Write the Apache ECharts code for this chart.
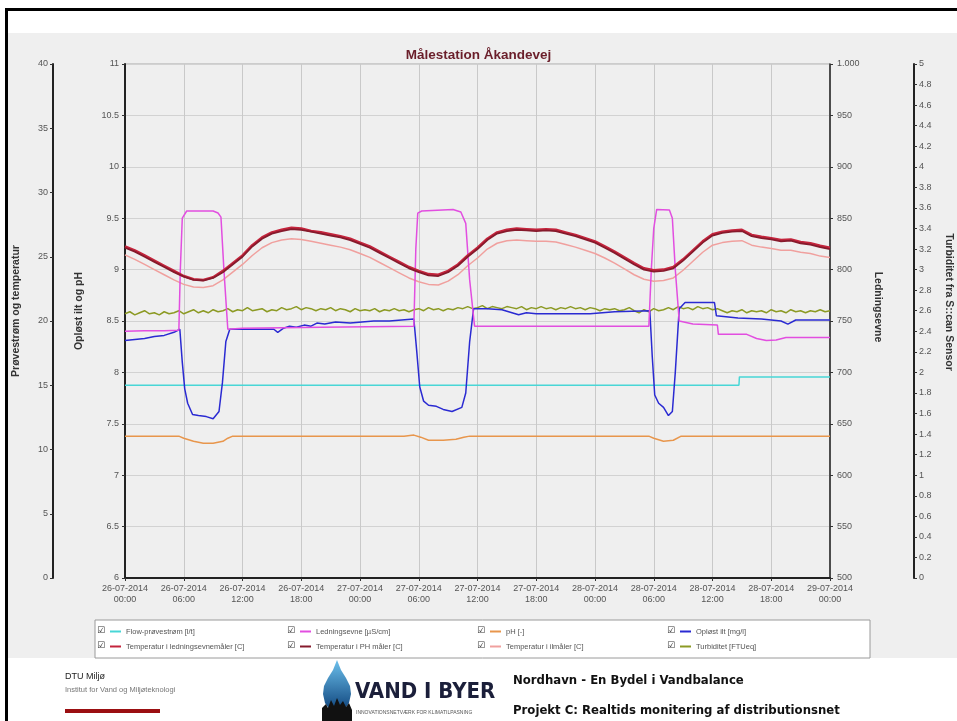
<!DOCTYPE html>
<html><head><meta charset="utf-8">
<script src="https://cdn.jsdelivr.net/npm/echarts@6/dist/echarts.min.js"></script>
<style>html,body{margin:0;padding:0;background:#fff;}#c{width:957px;height:721px;}</style>
</head><body><div id="c"></div>
<script>
// ---------- DATA ----------
const seriesNames = ['Flow-prøvestrøm [l/t]', 'Ledningsevne [µS/cm]', 'pH [-]', 'Opløst ilt [mg/l]',
  'Temperatur i ledningsevnemåler [C]', 'Temperatur i PH måler [C]', 'Temperatur i ilmåler [C]', 'Turbiditet [FTUeq]'];

const xTickLabels = ['26-07-2014\n00:00','26-07-2014\n06:00','26-07-2014\n12:00','26-07-2014\n18:00',
  '27-07-2014\n00:00','27-07-2014\n06:00','27-07-2014\n12:00','27-07-2014\n18:00',
  '28-07-2014\n00:00','28-07-2014\n06:00','28-07-2014\n12:00','28-07-2014\n18:00','29-07-2014\n00:00'];

// hours since 26-07-2014 00:00
const tempHours = [0,1,2,3,4,5,6,7,8,9,10,11,12,13,14,15,16,17,18,19,20,21,22,23,24,25,26,27,28,29,30,31,32,33,34,35,36,37,38,39,40,41,42,43,44,45,46,47,48,49,50,51,52,53,54,55,56,57,58,59,60,61,62,63,64,65,66,67,68,69,70,71,72];
const tempLedning = [25.8,25.5,25.1,24.7,24.3,23.9,23.5,23.25,23.2,23.4,
  23.9,24.5,25.1,25.9,26.5,26.9,27.1,27.25,27.2,27.0,
  26.9,26.75,26.6,26.4,26.1,25.8,25.4,25.0,24.6,24.2,
  23.9,23.65,23.6,23.9,24.4,25.1,25.7,26.4,26.9,27.1,
  27.2,27.15,27.1,27.15,27.1,26.9,26.7,26.45,26.2,25.8,
  25.4,24.95,24.5,24.1,23.95,24.0,24.2,24.8,25.5,26.2,
  26.75,26.95,27.05,27.1,26.7,26.55,26.45,26.3,26.35,26.15,
  26.05,25.85,25.7];
const tempPH = [25.7,25.4,25.0,24.6,24.2,23.8,23.45,23.2,23.15,23.35,
  23.8,24.4,25.0,25.8,26.4,26.8,27.0,27.15,27.1,26.95,
  26.8,26.65,26.5,26.3,26.0,25.7,25.3,24.9,24.5,24.1,
  23.8,23.55,23.5,23.8,24.3,25.0,25.6,26.3,26.8,27.0,
  27.1,27.05,27.0,27.05,27.0,26.8,26.6,26.35,26.1,25.7,
  25.3,24.85,24.4,24.0,23.85,23.9,24.1,24.7,25.4,26.1,
  26.65,26.85,26.95,27.0,26.6,26.45,26.35,26.2,26.25,26.05,
  25.95,25.75,25.6];
const tempIlt = [25.15,24.8,24.4,24.0,23.6,23.2,22.85,22.65,22.6,22.75,
  23.2,23.8,24.4,25.1,25.7,26.1,26.3,26.4,26.35,26.2,
  26.05,25.9,25.75,25.55,25.25,24.95,24.55,24.15,23.75,23.35,
  23.05,22.85,22.8,23.1,23.6,24.3,24.9,25.6,26.05,26.25,
  26.3,26.25,26.2,26.2,26.15,25.95,25.75,25.5,25.25,24.9,
  24.5,24.05,23.6,23.25,23.1,23.15,23.35,23.95,24.65,25.35,
  25.9,26.1,26.2,26.25,25.9,25.75,25.65,25.5,25.5,25.35,
  25.25,25.05,24.95];

const flowHours = [0, 62.7, 62.75, 72];
const flowValues = [15.0, 15.0, 15.65, 15.65];

const condHours = [0,2,4,5.5,5.65,5.85,6.3,9.0,9.5,9.8,10.1,10.5,12,20,29.5,29.7,29.9,30.3,33.5,34.3,34.8,35.2,35.7,36,45,53.5,53.75,54.0,54.3,55.6,55.9,56.2,56.6,58,60.5,60.6,63.5,64.5,65.5,66.5,67.5,72];
const condValues = [740,740.5,740.5,741,800,850,857,857,855,851,800,742,743,744,745,820,855,857,858.5,856,845,790,745,745,745,745,800,840,858.5,858,850,800,750,747,746,737,737,733,731,731.5,734,734];

const oxyHours = [0,1,2,3,4,5,5.6,5.85,6.1,6.4,6.9,7.5,8.3,9.0,9.6,9.95,10.3,10.7,12,15.2,15.6,16.2,16.8,17.5,18.3,19,19.6,20.4,21.5,23,25.4,27,29.5,29.8,30.1,30.5,31,31.8,32.5,33.4,34.4,34.8,35.2,35.6,37,38.5,40.2,41,42,44,47.5,50,53.6,53.85,54.1,54.5,55.0,55.5,55.9,56.2,56.6,57.2,60.2,60.4,62.6,65,67,67.7,68.5,72];
const oxyValues = [8.31,8.32,8.33,8.35,8.36,8.39,8.42,8.1,7.84,7.7,7.59,7.58,7.57,7.55,7.62,7.9,8.3,8.42,8.42,8.42,8.39,8.43,8.45,8.44,8.46,8.45,8.48,8.47,8.49,8.48,8.5,8.5,8.52,8.2,7.86,7.72,7.68,7.67,7.64,7.62,7.66,7.8,8.3,8.62,8.62,8.61,8.56,8.58,8.57,8.57,8.57,8.59,8.6,8.15,7.78,7.7,7.66,7.58,7.62,8.0,8.62,8.68,8.68,8.55,8.53,8.52,8.5,8.47,8.51,8.51];

const phHours = [0,5.5,6.0,7,8,9,10,10.5,11,28.5,29.5,30.2,31,32.5,33.8,34.6,35.2,53.5,54,55,56,56.8,72];
const phValues = [7.38,7.38,7.36,7.33,7.31,7.31,7.33,7.36,7.38,7.38,7.39,7.37,7.34,7.34,7.35,7.37,7.38,7.38,7.36,7.33,7.34,7.38,7.38];

// turbidity sampled every 0.5 h from 0 to 72 h
const turbStartHour = 0, turbStepHours = 0.5;
const turbValues = [2.57,2.59,2.56,2.58,2.60,2.57,2.58,2.56,2.59,2.57,
  2.58,2.60,2.57,2.59,2.61,2.58,2.60,2.58,2.61,2.59,
  2.60,2.62,2.59,2.61,2.60,2.63,2.60,2.61,2.62,2.59,
  2.61,2.60,2.63,2.61,2.62,2.64,2.61,2.63,2.62,2.60,
  2.62,2.61,2.63,2.60,2.62,2.61,2.59,2.62,2.60,2.61,
  2.60,2.62,2.59,2.61,2.60,2.62,2.60,2.61,2.59,2.61,
  2.62,2.60,2.63,2.61,2.62,2.60,2.62,2.61,2.63,2.62,
  2.64,2.62,2.63,2.65,2.62,2.64,2.63,2.62,2.64,2.63,
  2.62,2.64,2.61,2.63,2.62,2.64,2.62,2.63,2.61,2.63,
  2.62,2.64,2.62,2.63,2.61,2.63,2.62,2.60,2.62,2.61,
  2.62,2.60,2.61,2.63,2.60,2.58,2.61,2.59,2.62,2.60,
  2.61,2.63,2.61,2.64,2.62,2.63,2.61,2.64,2.62,2.63,
  2.61,2.62,2.60,2.58,2.60,2.59,2.61,2.58,2.60,2.59,
  2.60,2.58,2.61,2.59,2.60,2.58,2.61,2.59,2.60,2.58,
  2.60,2.59,2.61,2.59,2.60];

// ---------- BUILD ----------
function zip(xs, ys){ return xs.map((x,i)=>[x, ys[i]]); }
const turbHours = turbValues.map((_, i) => turbStartHour + i * turbStepHours);

const FONT = '"Liberation Sans", Arial, sans-serif';
const colors = ['#48d6d6', '#e24ee0', '#e8964c', '#2a2ad2', '#c4243c', '#861a2c', '#f0a09e', '#8c9a24'];

const chart = echarts.init(document.getElementById('c'));

function lineSeries(idx, data, yIdx, width, z){
  return { name: seriesNames[idx], type: 'line', data: data, yAxisIndex: yIdx, xAxisIndex: 0,
    showSymbol: false, symbol: 'none', smooth: false, z: z || 2,
    lineStyle: { color: colors[idx], width: width }, itemStyle: { color: colors[idx] } };
}

const colLeft = 110, colW = 190;
const checkGraphics = [];
for (let r = 0; r < 2; r++) for (let k = 0; k < 4; k++) {
  checkGraphics.push({ type: 'text', x: colLeft + k * colW - 13, y: 631 + r * 15, z: 100,
    style: { text: '☑', font: '9px "DejaVu Sans"', fill: '#333', verticalAlign: 'middle' } });
}

const option = {
  animation: false,
  backgroundColor: '#ffffff',
  textStyle: { fontFamily: FONT },
  title: { text: 'Målestation Åkandevej', left: 'center', top: 43,
    textStyle: { color: '#6a1e2a', fontSize: 13.5, fontWeight: 'bold', fontFamily: FONT } },
  grid: { left: 125, right: 127, top: 64, bottom: 143, show: true, backgroundColor: '#efefef',
    borderColor: '#a8a8a8', borderWidth: 1, containLabel: false, outerBoundsMode: 'none' },
  legend: { data: seriesNames, left: 95, top: 620, width: 765, orient: 'horizontal',
    padding: [4, 0, 4, 15], itemGap: 0, itemWidth: 11, itemHeight: 2, icon: 'rect',
    backgroundColor: '#ffffff', borderColor: '#9a9a9a', borderWidth: 1,
    textStyle: { width: 174, fontSize: 7.5, lineHeight: 15, color: '#555', fontFamily: FONT } },
  xAxis: { type: 'value', min: 0, max: 72, interval: 6,
    axisLine: { show: true, lineStyle: { color: '#222', width: 2 } },
    axisTick: { show: true, length: 3, lineStyle: { color: '#333' } },
    axisLabel: { fontSize: 9, lineHeight: 11, color: '#555', margin: 5, showMinLabel: true, showMaxLabel: true,
      formatter: v => xTickLabels[Math.round(v / 6)] || '' },
    splitLine: { show: true, lineStyle: { color: '#c9c9c9', width: 1 } } },
  yAxis: [
    { type: 'value', min: 6, max: 11, interval: 0.5, position: 'left', offset: 0,
      name: 'Opløst ilt og pH', nameLocation: 'middle', nameRotate: 90, nameGap: 40,
      nameTextStyle: { fontSize: 10.5, fontWeight: 'bold', color: '#333', padding: [0, 0, 0, 20] },
      axisLine: { show: true, lineStyle: { color: '#222', width: 2 } },
      axisTick: { show: true, length: 3, lineStyle: { color: '#333' } },
      axisLabel: { fontSize: 9, color: '#555', margin: 6 },
      splitLine: { show: true, lineStyle: { color: '#d2d2d2', width: 1 } } },
    { type: 'value', min: 0, max: 40, interval: 5, position: 'left', offset: 72,
      name: 'Prøvestrøm og temperatur', nameLocation: 'middle', nameRotate: 90, nameGap: 31,
      nameTextStyle: { fontSize: 10.5, fontWeight: 'bold', color: '#333', padding: [0, 0, 0, 20] },
      axisLine: { show: true, lineStyle: { color: '#222', width: 2 } },
      axisTick: { show: true, length: 3, lineStyle: { color: '#333' } },
      axisLabel: { fontSize: 9, color: '#555', margin: 5 },
      splitLine: { show: false } },
    { type: 'value', min: 500, max: 1000, interval: 50, position: 'right', offset: 0,
      name: 'Ledningsevne', nameLocation: 'middle', nameRotate: -90, nameGap: 42,
      nameTextStyle: { fontSize: 10.5, fontWeight: 'bold', color: '#333', padding: [0, 28, 0, 0] },
      axisLine: { show: true, lineStyle: { color: '#222', width: 1.5 } },
      axisTick: { show: true, length: 3, lineStyle: { color: '#333' } },
      axisLabel: { fontSize: 9, color: '#555', margin: 7, formatter: v => v >= 1000 ? '1.000' : String(v) },
      splitLine: { show: false } },
    { type: 'value', min: 0, max: 5, interval: 0.2, position: 'right', offset: 84,
      name: 'Turbiditet fra S::can Sensor', nameLocation: 'middle', nameRotate: -90, nameGap: 29,
      nameTextStyle: { fontSize: 10.5, fontWeight: 'bold', color: '#333', padding: [0, 38, 0, 0] },
      axisLine: { show: true, lineStyle: { color: '#222', width: 2 } },
      axisTick: { show: true, length: 3, lineStyle: { color: '#333' } },
      axisLabel: { fontSize: 9, color: '#555', margin: 5 },
      splitLine: { show: false } }
  ],
  series: [
    lineSeries(0, zip(flowHours, flowValues), 1, 1.5, 2),
    lineSeries(2, zip(phHours, phValues), 0, 1.5, 2),
    lineSeries(7, zip(turbHours, turbValues), 3, 1.5, 3),
    lineSeries(3, zip(oxyHours, oxyValues), 0, 1.5, 4),
    lineSeries(1, zip(condHours, condValues), 2, 1.5, 5),
    lineSeries(6, zip(tempHours, tempIlt), 1, 1.5, 3),
    lineSeries(4, zip(tempHours, tempLedning), 1, 2.5, 6),
    lineSeries(5, zip(tempHours, tempPH), 1, 1.8, 7)
  ],
  graphic: [
    { type: 'rect', z: -10, shape: { x: 8, y: 33, width: 949, height: 625 }, style: { fill: '#efefef' } },
    { type: 'rect', z: 50, shape: { x: 5, y: 8, width: 952, height: 3 }, style: { fill: '#000' } },
    { type: 'rect', z: 50, shape: { x: 5, y: 8, width: 3, height: 713 }, style: { fill: '#000' } },
    // footer
    { type: 'text', x: 65, y: 677, style: { text: 'DTU Miljø', font: '9px ' + FONT, fill: '#222', verticalAlign: 'middle' } },
    { type: 'text', x: 65, y: 690, style: { text: 'Institut for Vand og Miljøteknologi', font: '7.5px ' + FONT, fill: '#777', verticalAlign: 'middle' } },
    { type: 'rect', shape: { x: 65, y: 709, width: 95, height: 4 }, style: { fill: '#9b0f12' } },
    { type: 'polygon', shape: { points: [[337,660],[341,670],[346,678],[350,686],[351,694],[349,703],[344,710],[337,713],[330,710],[325,703],[323,694],[324,686],[328,678],[333,670]] },
      style: { fill: new echarts.graphic.LinearGradient(0, 0, 0, 1, [{ offset: 0, color: '#6cc0ec' }, { offset: 1, color: '#0b3f78' }]) } },
    { type: 'polygon', shape: { points: [[322,721],[322,708],[326,704],[328,708],[331,700],[334,706],[337,698],[340,705],[343,701],[346,707],[349,703],[352,710],[352,721]] },
      style: { fill: '#111' } },
    { type: 'text', x: 355, y: 692, style: { text: 'VAND I BYER', font: 'bold 22px "Liberation Sans Narrow","DejaVu Sans Condensed",sans-serif', fill: '#1b1f3a', verticalAlign: 'middle' } },
    { type: 'text', x: 356, y: 713, style: { text: 'INNOVATIONSNETVÆRK FOR KLIMATILPASNING', font: '5px ' + FONT, fill: '#555', verticalAlign: 'middle' } },
    { type: 'text', x: 513, y: 681, style: { text: 'Nordhavn - En Bydel i Vandbalance', font: 'bold 13px "DejaVu Sans Condensed","DejaVu Sans",sans-serif', fill: '#111', verticalAlign: 'middle' } },
    { type: 'text', x: 513, y: 711, style: { text: 'Projekt C: Realtids monitering af distributionsnet', font: 'bold 13px "DejaVu Sans Condensed","DejaVu Sans",sans-serif', fill: '#111', verticalAlign: 'middle' } }
  ].concat(checkGraphics)
};
chart.setOption(option);
</script></body></html>
